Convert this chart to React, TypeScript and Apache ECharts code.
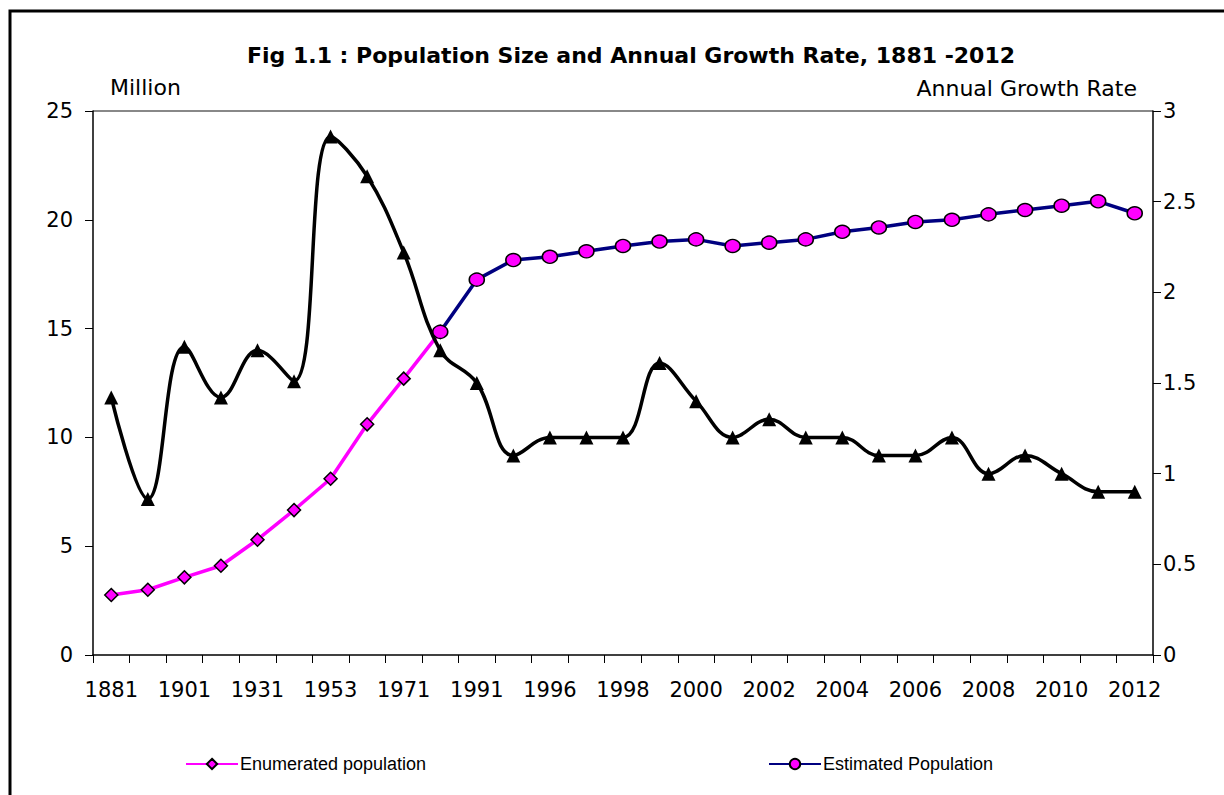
import React, { useEffect, useRef } from "react";
import * as echarts from "echarts";

const categories = [
  "1881", "1891", "1901", "1911", "1931", "1946", "1953", "1963", "1971", "1981",
  "1991", "1995", "1996", "1997", "1998", "1999", "2000", "2001", "2002", "2003",
  "2004", "2005", "2006", "2007", "2008", "2009", "2010", "2011", "2012",
];

const enumeratedPopulation = [
  2.76, 3.0, 3.57, 4.1, 5.3, 6.66, 8.1, 10.6, 12.7, 14.85,
  null, null, null, null, null, null, null, null, null, null,
  null, null, null, null, null, null, null, null, null,
];

const estimatedPopulation = [
  null, null, null, null, null, null, null, null, null, 14.85,
  17.25, 18.15, 18.3, 18.55, 18.8, 19.0, 19.1, 18.8, 18.95, 19.1,
  19.45, 19.65, 19.9, 20.0, 20.25, 20.45, 20.65, 20.85, 20.3,
];

const growthRate = [
  1.42, 0.86, 1.7, 1.42, 1.68, 1.51, 2.86, 2.64, 2.22, 1.68,
  1.5, 1.1, 1.2, 1.2, 1.2, 1.61, 1.4, 1.2, 1.3, 1.2,
  1.2, 1.1, 1.1, 1.2, 1.0, 1.1, 1.0, 0.9, 0.9,
];

const leftTicks = { min: 0, max: 25, interval: 5 };
const rightTicks = { min: 0, max: 3, interval: 0.5 };

export default function App() {
  const ref = useRef<HTMLDivElement>(null);
  useEffect(() => {
    if (!ref.current) return;
    const chart = echarts.init(ref.current, null, { renderer: "svg" });
    const axisFont = { fontFamily: "DejaVu Sans", fontSize: 21, color: "#000" };
    const legendText = { fontFamily: "Liberation Sans", fontSize: 18, color: "#000", padding: [0, 0, 0, -3] };
    chart.setOption({
      animation: false,
      backgroundColor: "#fff",
      title: {
        text: "Fig 1.1 : Population Size and Annual Growth Rate, 1881 -2012",
        left: 626,
        top: 39,
        textAlign: "center",
        textStyle: { fontFamily: "DejaVu Sans", fontWeight: "bold", fontSize: 22, color: "#000" },
      },
      graphic: [
        {
          type: "rect",
          shape: { x: 10, y: 11, width: 1400, height: 1000 },
          style: { fill: "none", stroke: "#000", lineWidth: 3 },
          silent: true,
        },
        {
          type: "text",
          x: 110,
          y: 87,
          style: { text: "Million", font: "22px 'DejaVu Sans'", fill: "#000", textVerticalAlign: "middle" },
        },
        {
          type: "text",
          x: 1137,
          y: 88,
          style: { text: "Annual Growth Rate", font: "22px 'DejaVu Sans'", fill: "#000", textAlign: "right", textVerticalAlign: "middle" },
        },
      ],
      legend: [
        {
          data: ["Enumerated population"],
          left: 180,
          top: 750,
          itemWidth: 52,
          itemHeight: 13,
          textStyle: legendText,
        },
        {
          data: ["Estimated Population"],
          left: 763,
          top: 750,
          itemWidth: 52,
          itemHeight: 13,
          textStyle: legendText,
        },
      ],
      grid: { left: 93, right: 71, top: 111, bottom: 140, containLabel: false },
      xAxis: {
        type: "category",
        data: categories,
        boundaryGap: true,
        axisLine: { lineStyle: { color: "#000", width: 1.5 } },
        axisTick: { show: true, interval: 0, length: 8, lineStyle: { color: "#000" } },
        axisLabel: { ...axisFont, interval: 1, margin: 24 },
        splitLine: { show: false },
      },
      yAxis: [
        {
          type: "value",
          ...leftTicks,
          position: "left",
          axisLine: { show: true, lineStyle: { color: "#000", width: 1.5 } },
          axisTick: { show: true, length: 8, lineStyle: { color: "#000" } },
          axisLabel: { ...axisFont, margin: 20 },
          splitLine: {
            show: true,
            lineStyle: { color: ["rgba(0,0,0,0)", "rgba(0,0,0,0)", "rgba(0,0,0,0)", "rgba(0,0,0,0)", "rgba(0,0,0,0)", "#888"], width: 2 },
          },
        },
        {
          type: "value",
          ...rightTicks,
          position: "right",
          axisLine: { show: true, lineStyle: { color: "#000", width: 1.5 } },
          axisTick: { show: true, length: 8, lineStyle: { color: "#000" } },
          axisLabel: { ...axisFont, margin: 10 },
          splitLine: { show: false },
        },
      ],
      series: [
        {
          name: "Enumerated population",
          type: "line",
          yAxisIndex: 0,
          data: enumeratedPopulation,
          symbol: "diamond",
          symbolSize: 13,
          lineStyle: { color: "#FF00FF", width: 3.5 },
          itemStyle: { color: "#FF00FF", borderColor: "#000", borderWidth: 1.5 },
          z: 2,
        },
        {
          name: "Annual Growth Rate",
          type: "line",
          yAxisIndex: 1,
          data: growthRate,
          smooth: 0.4,
          symbol: "triangle",
          symbolSize: 14,
          lineStyle: { color: "#000", width: 3.5 },
          itemStyle: { color: "#000" },
          z: 3,
        },
        {
          name: "Estimated Population",
          type: "line",
          yAxisIndex: 0,
          data: estimatedPopulation,
          symbol: "circle",
          symbolSize: [15, 13],
          lineStyle: { color: "#000080", width: 3.5 },
          itemStyle: { color: "#FF00FF", borderColor: "#000", borderWidth: 1.5 },
          z: 4,
        },
      ],
    });
    return () => chart.dispose();
  }, []);
  return (
    <div
      ref={ref}
      style={{ position: "fixed", left: 0, top: 0, width: 1224, height: 795 }}
    />
  );
}
